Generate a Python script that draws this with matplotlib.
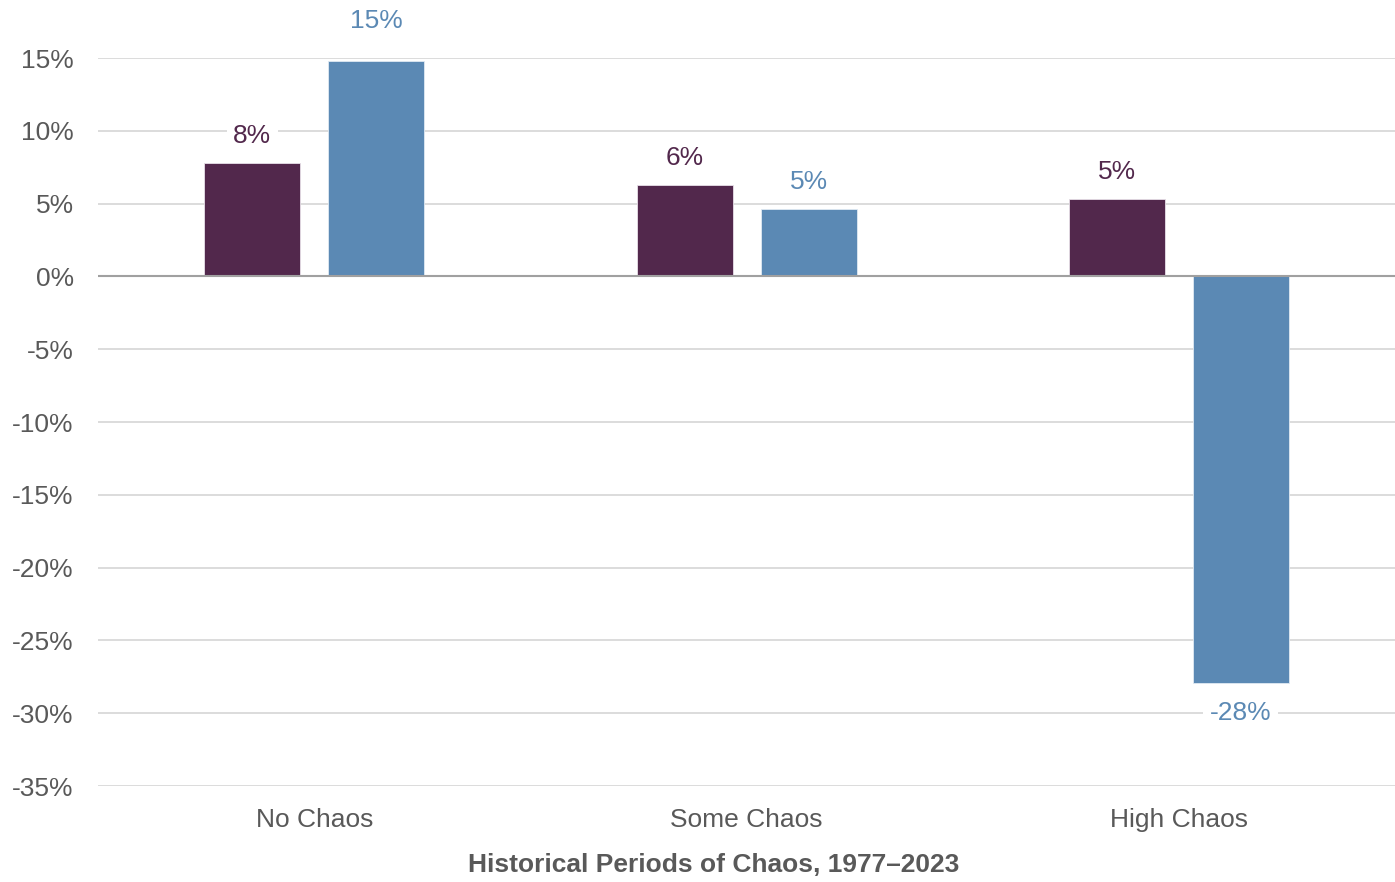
import numpy as np
import matplotlib.pyplot as plt

plt.rcParams['font.family'] = ['Liberation Sans', 'DejaVu Sans']

# Data
categories = ['No Chaos', 'Some Chaos', 'High Chaos']
series_a = [7.8, 6.3, 5.3]      # purple
series_b = [14.8, 4.6, -27.9]   # blue
labels_a = ['8%', '6%', '5%']
labels_b = ['15%', '5%', '-28%']
yticks = [15, 10, 5, 0, -5, -10, -15, -20, -25, -30, -35]

purple = '#52284C'
blue = '#5B89B4'
fs = 19

fig = plt.figure(figsize=(13.95, 8.82), dpi=100)
ax = fig.add_axes([0.0703, 0.1088, 0.9297, 0.8254])

x = np.arange(len(categories))
w = 0.222
off = 0.1434
ax.bar(x - off, series_a, w, color=purple, edgecolor='#E8E0E8', linewidth=0.6, zorder=3)
ax.bar(x + off, series_b, w, color=blue, edgecolor='#E0EAF3', linewidth=0.6, zorder=3)

ax.set_xlim(-0.5, 2.5)
ax.set_ylim(-35, 15)
ax.set_yticks(yticks)
ax.set_yticklabels([f'{t}%' for t in yticks])
ax.set_xticks(x)
ax.set_xticklabels(categories)
ax.tick_params(axis='both', length=0, labelsize=fs, colors='#595959')
ax.tick_params(axis='y', pad=17.5)
ax.tick_params(axis='x', pad=16)

ax.grid(axis='y', color='#D9D9D9', linewidth=1.3, zorder=0)
ax.axhline(0, color='#A0A0A0', linewidth=1.5, zorder=4)
for s in ax.spines.values():
    s.set_visible(False)

ax.set_xlabel('Historical Periods of Chaos, 1977\u20132023', fontsize=fs,
              fontweight='bold', color='#595959', labelpad=15, x=0.4745)

box = dict(boxstyle='square,pad=0.25', facecolor='white', edgecolor='none')
for i in range(len(categories)):
    ax.annotate(labels_a[i], (x[i] - off, series_a[i]), xytext=(0, 19.5),
                textcoords='offset points', ha='center', va='center',
                fontsize=fs, color=purple, bbox=box, zorder=5, annotation_clip=False)
    v = series_b[i]
    dy = 19.5 if v >= 0 else -21.5
    if labels_b[i] == '15%':
        dy = 29
    ax.annotate(labels_b[i], (x[i] + off, v), xytext=(0, dy),
                textcoords='offset points', ha='center', va='center',
                fontsize=fs, color=blue, bbox=box, zorder=5, annotation_clip=False)

fig.savefig('out.png', dpi=100)
